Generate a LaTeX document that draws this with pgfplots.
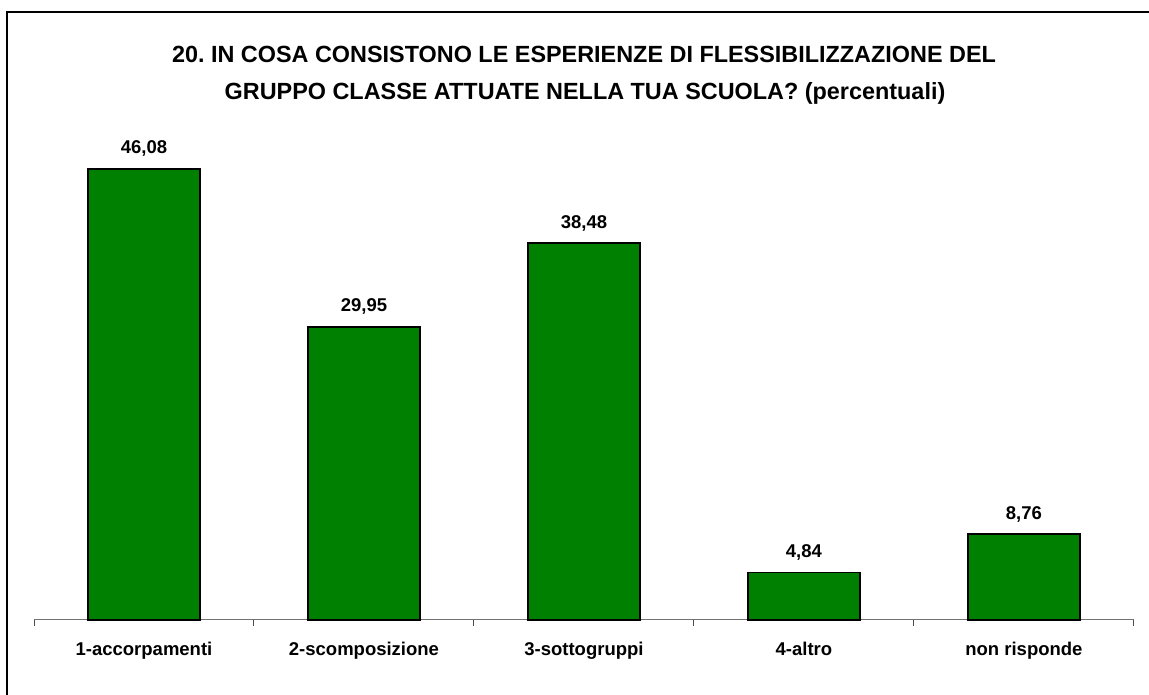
\documentclass[border=0pt]{standalone}
\usepackage{pgfplots}
\pgfplotsset{compat=1.18}
\usepackage{fontspec}
\setmainfont{Liberation Sans}
\definecolor{bargreen}{RGB}{0,128,0}
\begin{document}
\frenchspacing
\begin{tikzpicture}[x=1bp,y=1bp]
\useasboundingbox (0,0) rectangle (1149,695);
\draw[line width=2bp] (7,-5) -- (7,683) -- (1155,683);
\node[anchor=base,font=\fontsize{23.4bp}{27bp}\selectfont\bfseries] at (584,632) {20. IN COSA CONSISTONO LE ESPERIENZE DI FLESSIBILIZZAZIONE DEL};
\node[anchor=base,font=\fontsize{23.4bp}{27bp}\selectfont\bfseries] at (585,595) {GRUPPO CLASSE ATTUATE NELLA TUA SCUOLA? (percentuali)};
\begin{axis}[
  at={(34bp,75bp)}, anchor=south west,
  scale only axis, width=1100bp, height=489.5bp,
  xmin=-0.5, xmax=4.5, ymin=0, ymax=50,
  hide y axis,
  axis x line*=bottom,
  x axis line style={black!55, line width=1bp, -},
  xtick={0,1,2,3,4},
  xticklabels={1-accorpamenti,2-scomposizione,3-sottogruppi,4-altro,non risponde},
  major tick length=0pt,
  minor xtick={-0.5,0.5,1.5,2.5,3.5,4.5},
  minor tick length=6bp,
  tick align=outside,
  minor tick style={black!70, line width=1bp},
  xticklabel style={font=\fontsize{18.5bp}{22bp}\selectfont\bfseries, anchor=base, yshift=-36bp, inner sep=0pt},
  ybar, bar width=0.51,
  nodes near coords={\pgfmathprintnumber[fixed,fixed zerofill,precision=2,use comma,assume math mode=true]{\pgfplotspointmeta}},
  nodes near coords style={font=\fontsize{18.5bp}{22bp}\selectfont\bfseries, anchor=base, yshift=15bp, inner sep=0pt},
  clip=false,
]
\addplot[fill=bargreen, draw=black, line width=1.6bp] coordinates {(0,46.08) (1,29.95) (2,38.48) (3,4.84) (4,8.76)};
\end{axis}
\end{tikzpicture}
\end{document}
